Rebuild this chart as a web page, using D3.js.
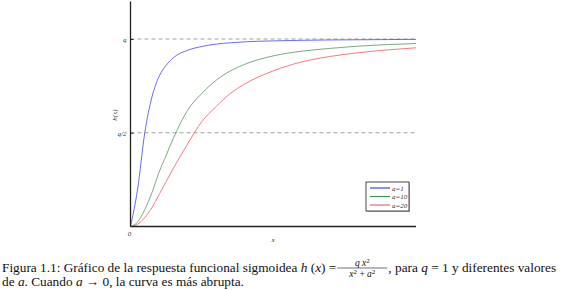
<!DOCTYPE html>
<html>
<head>
<meta charset="utf-8">
<script src="https://cdn.jsdelivr.net/npm/d3@7"></script>
<style>
  body { margin: 0; background: #fff; }
  svg { display: block; }
</style>
</head>
<body>
<svg id="chart" width="567" height="290"></svg>
<script>
// values
const xs = [0, 0.5, 1, 1.5, 2, 2.5, 3, 4, 5, 6, 7, 8, 10, 12, 14, 16, 18, 20];
const hA1 = [0, 0.2, 0.5, 0.69, 0.8, 0.86, 0.9, 0.94, 0.96, 0.973, 0.98, 0.985, 0.99, 0.993, 0.995, 0.996, 0.997, 0.998];
const hA10 = [0, 0.024, 0.09, 0.18, 0.29, 0.38, 0.47, 0.62, 0.71, 0.78, 0.83, 0.865, 0.91, 0.935, 0.95, 0.962, 0.97, 0.976];
const hA20 = [0, 0.012, 0.048, 0.1, 0.17, 0.24, 0.31, 0.44, 0.56, 0.64, 0.71, 0.76, 0.83, 0.878, 0.907, 0.927, 0.942, 0.953];
const seriesNames = ["a=1", "a=10", "a=20"];
const seriesColors = ["#5a5aee", "#6f9f72", "#ee6e72"];
const legendColors = ["#3838c8", "#2f9a50", "#e85a68"];
const tickValues = [0.5, 1];
const tickLabels = ["q/2", "q"];

const svg = d3.select("#chart");
const serif = "'Liberation Serif', 'DejaVu Serif', serif";

const x = d3.scaleLinear().domain([0, 20]).range([130.5, 416]);
const y = d3.scaleLinear().domain([0, 1.2]).range([226.5, 1.5]);

const plot = svg.append("g");

// dashed reference lines at q and q/2
plot.selectAll("line.ref")
    .data(tickValues)
    .join("line")
    .attr("class", "ref")
    .attr("x1", x(0)).attr("x2", x(20))
    .attr("y1", d => y(d)).attr("y2", d => y(d))
    .attr("stroke", "#8a8a8a")
    .attr("stroke-width", 0.8)
    .attr("stroke-dasharray", "4,3");

// curves
const line = d3.line()
    .x((d, i) => x(xs[i]))
    .y(d => y(d))
    .curve(d3.curveMonotoneX);

plot.selectAll("path.curve")
    .data([hA1, hA10, hA20])
    .join("path")
    .attr("class", "curve")
    .attr("d", line)
    .attr("fill", "none")
    .attr("stroke", (d, i) => seriesColors[i])
    .attr("stroke-width", 0.9);

// axes
const yAxis = d3.axisLeft(y).tickValues(tickValues).tickFormat((d, i) => tickLabels[i]).tickSize(-3).tickPadding(4);
const gy = svg.append("g").attr("transform", `translate(${x(0)},0)`).call(yAxis);
gy.select(".domain").attr("stroke", "#222").attr("stroke-width", 1.3).attr("d", `M0,${y(0)}V${y(1.2)}`);
gy.selectAll(".tick line").attr("stroke", "#222");
gy.selectAll(".tick text")
    .attr("font-family", serif).attr("font-style", "italic").attr("font-size", 7).attr("fill", "#333");

const xAxis = d3.axisBottom(x).tickValues([]).tickSize(0);
const gx = svg.append("g").attr("transform", `translate(0,${y(0)})`).call(xAxis);
gx.select(".domain").attr("stroke", "#222").attr("stroke-width", 1.3).attr("d", `M${x(0)},0H${x(20)}`);

svg.append("text").attr("x", x(0) - 1).attr("y", y(0) + 9)
    .attr("text-anchor", "middle").attr("font-family", serif).attr("font-style", "italic")
    .attr("font-size", 7).attr("fill", "#333").text("0");

svg.append("text").attr("x", 273).attr("y", 242)
    .attr("text-anchor", "middle").attr("font-family", serif).attr("font-style", "italic")
    .attr("font-size", 7).attr("fill", "#333").text("x");

svg.append("text").attr("transform", "translate(117,115) rotate(-90)")
    .attr("text-anchor", "middle").attr("font-family", serif).attr("font-style", "italic")
    .attr("font-size", 7).attr("fill", "#333").text("h(x)");

// legend
const lg = svg.append("g").attr("transform", "translate(366,182)");
lg.append("rect").attr("x", 1).attr("y", 1).attr("width", 43).attr("height", 29).attr("fill", "#bbb");
lg.append("rect").attr("width", 43).attr("height", 29).attr("fill", "#fff").attr("stroke", "#333").attr("stroke-width", 0.9);
const row = lg.selectAll("g.row").data(seriesNames).join("g")
    .attr("class", "row")
    .attr("transform", (d, i) => `translate(0,${6 + i * 8.5})`);
row.append("line").attr("x1", 4).attr("x2", 24).attr("stroke", (d, i) => legendColors[i]).attr("stroke-width", 1.1);
row.append("text").attr("x", 26).attr("y", 2.5)
    .attr("font-family", serif).attr("font-style", "italic").attr("font-size", 7).attr("fill", "#333")
    .text(d => d);

// caption
const cap = svg.append("g").attr("font-family", serif).attr("font-size", 13.3).attr("fill", "#111");
const t1 = cap.append("text").attr("x", 2).attr("y", 272);
t1.append("tspan").text("Figura 1.1: Gráfico de la respuesta funcional sigmoidea ");
t1.append("tspan").attr("font-style", "italic").text("h");
t1.append("tspan").text(" (");
t1.append("tspan").attr("font-style", "italic").text("x");
t1.append("tspan").text(") = ");
const fx = 2 + t1.node().getComputedTextLength() + 1;
const fw = 50;
cap.append("line").attr("x1", fx).attr("x2", fx + fw).attr("y1", 268).attr("y2", 268).attr("stroke", "#111").attr("stroke-width", 0.6);
const num = cap.append("text").attr("x", fx + fw / 2).attr("y", 265.5).attr("text-anchor", "middle").attr("font-size", 9.5).attr("font-style", "italic");
num.append("tspan").text("q x");
num.append("tspan").attr("dy", -3).attr("font-size", 7).attr("font-style", "normal").text("2");
const den = cap.append("text").attr("x", fx + fw / 2).attr("y", 276.5).attr("text-anchor", "middle").attr("font-size", 9.5);
den.append("tspan").attr("font-style", "italic").text("x");
den.append("tspan").attr("dy", -3).attr("font-size", 7).text("2");
den.append("tspan").attr("dy", 3).text(" + ");
den.append("tspan").attr("font-style", "italic").text("a");
den.append("tspan").attr("dy", -3).attr("font-size", 7).text("2");
const t1b = cap.append("text").attr("x", fx + fw + 1).attr("y", 272);
t1b.append("tspan").text(", para ");
t1b.append("tspan").attr("font-style", "italic").text("q");
t1b.append("tspan").text(" = 1 y diferentes valores");

const t2 = cap.append("text").attr("x", 2).attr("y", 286);
t2.append("tspan").text("de ");
t2.append("tspan").attr("font-style", "italic").text("a");
t2.append("tspan").text(". Cuando ");
t2.append("tspan").attr("font-style", "italic").text("a");
t2.append("tspan").text(" → 0, la curva es más abrupta.");
</script>
</body>
</html>
